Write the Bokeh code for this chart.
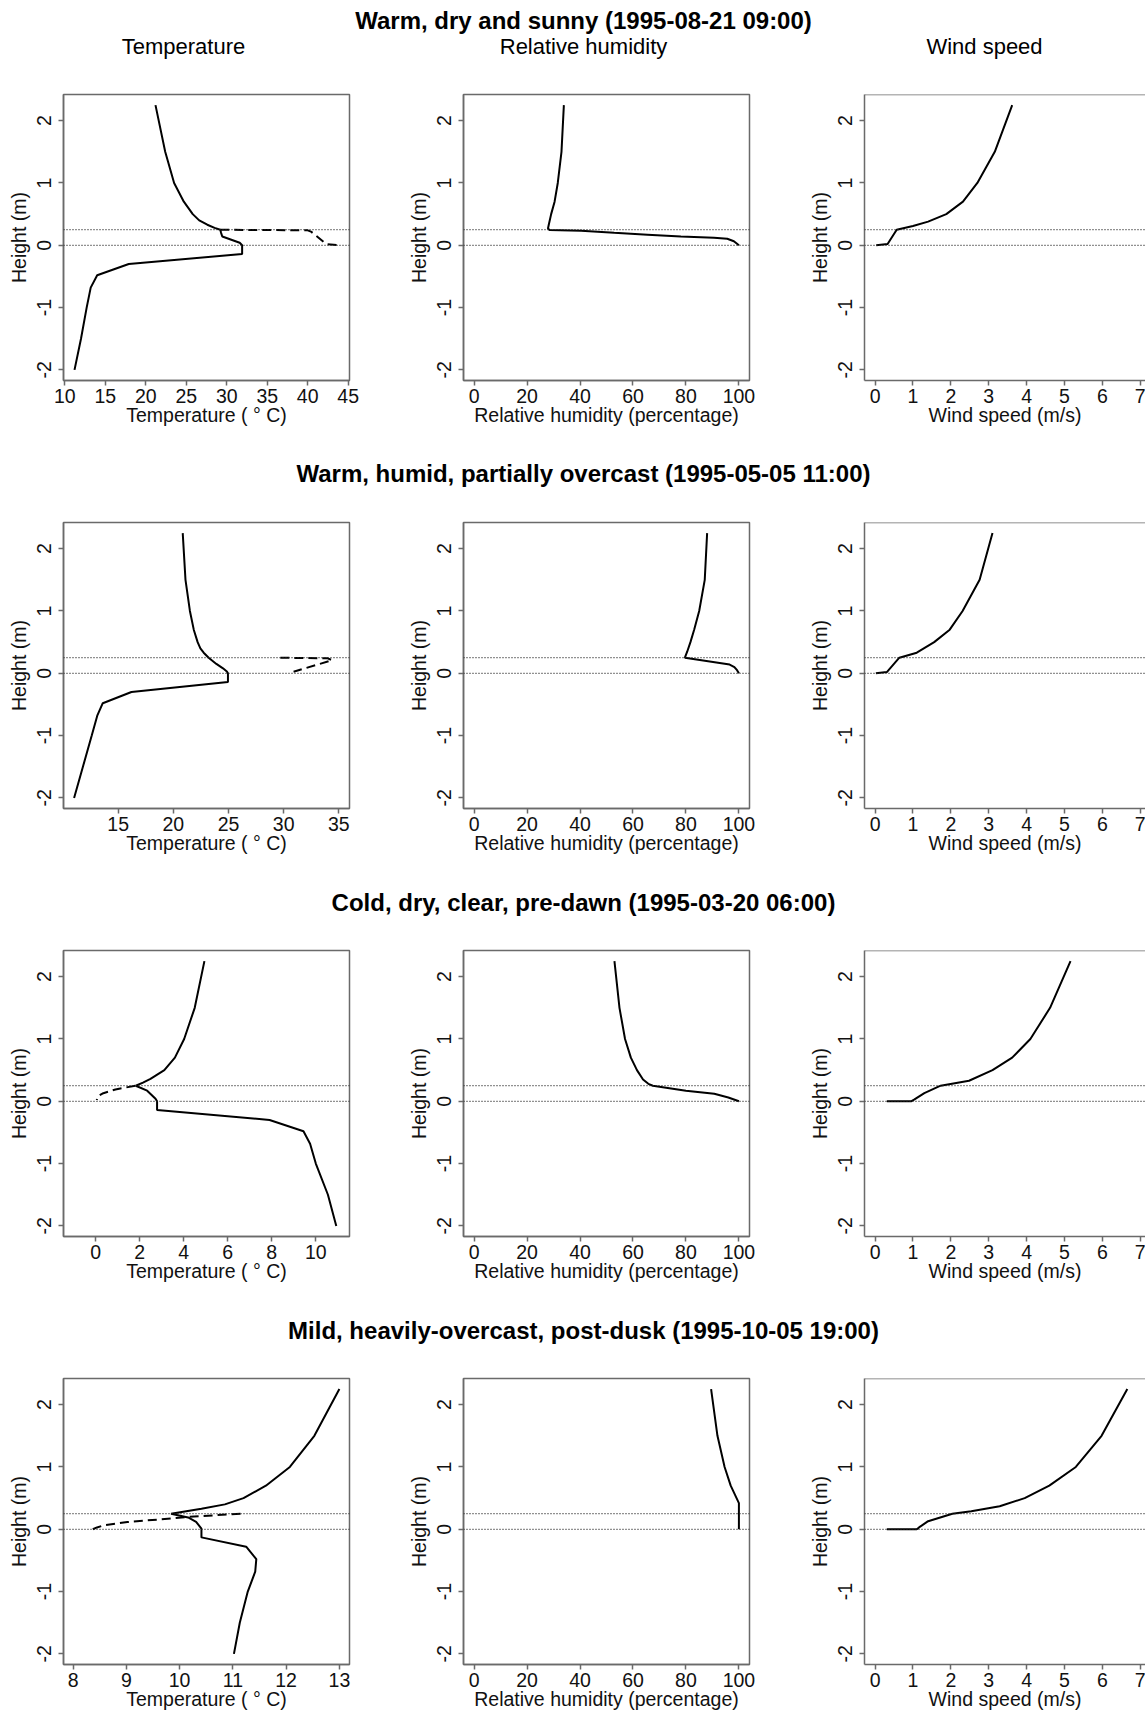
import math
from bokeh.plotting import figure
from bokeh.layouts import column, row
from bokeh.models import Range1d, FixedTicker, Span
from bokeh.core.properties import value
from bokeh.embed import file_html
from bokeh.resources import INLINE

# ---------------- data ----------------
row_titles = [
    "Warm, dry and sunny (1995-08-21 09:00)",
    "Warm, humid, partially overcast (1995-05-05 11:00)",
    "Cold, dry, clear, pre-dawn (1995-03-20 06:00)",
    "Mild, heavily-overcast, post-dusk (1995-10-05 19:00)",
]
col_titles = ["Temperature", "Relative humidity", "Wind speed"]
x_labels = ["Temperature ( \u00b0 C)", "Relative humidity (percentage)", "Wind speed (m/s)"]
y_label = "Height (m)"

y_ticks = [-2, -1, 0, 1, 2]
temp_ticks = [[10, 15, 20, 25, 30, 35, 40, 45], [15, 20, 25, 30, 35], [0, 2, 4, 6, 8, 10], [8, 9, 10, 11, 12, 13]]
rh_ticks = [0, 20, 40, 60, 80, 100]
wind_ticks = [0, 1, 2, 3, 4, 5, 6, 7]
ref_heights = [0.0, 0.25]

# Row 1 : warm, dry, sunny
t1_h = [2.25, 1.5, 1.0, 0.7, 0.5, 0.4, 0.33, 0.28, 0.25, 0.2, 0.14, 0.04, 0.0, -0.14, -0.3, -0.48, -0.68, -1.0, -1.5, -2.0]
t1_x = [21.2, 22.4, 23.5, 24.7, 25.8, 26.6, 27.6, 28.5, 29.2, 29.3, 29.45, 31.6, 31.9, 31.9, 17.9, 14.0, 13.2, 12.7, 12.0, 11.2]
d1_h = [0.25, 0.24, 0.22, 0.02, 0.005]
d1_x = [29.2, 40.0, 40.4, 42.3, 43.7]
rh1_h = [2.25, 1.5, 1.0, 0.7, 0.5, 0.33, 0.27, 0.245, 0.235, 0.2, 0.17, 0.14, 0.12, 0.105, 0.065, 0.0]
rh1_x = [33.9, 33.0, 31.6, 30.4, 29.1, 28.2, 27.9, 28.5, 40.4, 52.9, 65.5, 78.1, 90.6, 95.6, 98.1, 100.0]
w1_h = [2.25, 1.5, 1.0, 0.7, 0.5, 0.38, 0.31, 0.25, 0.02, 0.0]
w1_x = [3.62, 3.16, 2.70, 2.32, 1.88, 1.40, 1.0, 0.57, 0.33, 0.03]

# Row 2 : warm, humid, partially overcast
t2_h = [2.25, 1.5, 1.0, 0.7, 0.5, 0.4, 0.33, 0.25, 0.15, 0.08, 0.03, 0.0, -0.14, -0.3, -0.48, -0.68, -1.0, -1.5, -2.0]
t2_x = [20.85, 21.1, 21.5, 21.85, 22.2, 22.45, 22.75, 23.2, 23.9, 24.5, 24.85, 24.95, 24.95, 16.2, 13.6, 13.1, 12.6, 11.8, 11.0]
d2_h = [0.25, 0.24, 0.21, 0.025]
d2_x = [29.7, 34.0, 34.4, 30.9]
rh2_h = [2.25, 1.5, 1.0, 0.7, 0.5, 0.35, 0.25, 0.14, 0.1, 0.05, 0.0]
rh2_x = [88.0, 87.1, 85.0, 83.1, 81.7, 80.5, 79.6, 96.5, 98.3, 99.3, 100.0]
w2_h = [2.25, 1.5, 1.0, 0.7, 0.5, 0.33, 0.25, 0.02, 0.0]
w2_x = [3.1, 2.76, 2.31, 1.97, 1.56, 1.1, 0.64, 0.31, 0.02]

# Row 3 : cold, dry, clear, pre-dawn
t3_h = [2.25, 1.5, 1.0, 0.7, 0.5, 0.36, 0.3, 0.25, 0.17, 0.04, 0.0, -0.14, -0.3, -0.48, -0.68, -1.0, -1.5, -2.0]
t3_x = [4.94, 4.5, 4.02, 3.6, 3.12, 2.49, 2.15, 1.82, 2.34, 2.72, 2.79, 2.79, 7.9, 9.44, 9.74, 10.0, 10.55, 10.93]
d3_h = [0.25, 0.19, 0.13, 0.08, 0.02]
d3_x = [1.8, 0.9, 0.35, 0.1, 0.05]
rh3_h = [2.25, 1.5, 1.0, 0.7, 0.5, 0.35, 0.28, 0.25, 0.17, 0.12, 0.06, 0.0]
rh3_x = [53.0, 54.9, 57.0, 59.2, 61.5, 63.8, 65.8, 67.5, 80.0, 90.7, 96.0, 100.0]
w3_h = [2.25, 1.5, 1.0, 0.7, 0.5, 0.33, 0.25, 0.13, 0.03, 0.0, 0.0]
w3_x = [5.16, 4.62, 4.1, 3.62, 3.1, 2.48, 1.73, 1.3, 1.04, 0.95, 0.31]

# Row 4 : mild, heavily overcast, post-dusk
t4_h = [2.25, 1.5, 1.0, 0.7, 0.5, 0.4, 0.33, 0.25, 0.19, 0.12, 0.01, 0.0, -0.13, -0.28, -0.48, -0.68, -1.0, -1.5, -2.0]
t4_x = [13.0, 12.53, 12.07, 11.62, 11.2, 10.85, 10.41, 9.84, 10.16, 10.31, 10.41, 10.41, 10.41, 11.25, 11.44, 11.42, 11.28, 11.13, 11.02]
d4_h = [0.0, 0.03, 0.064, 0.117, 0.16, 0.2, 0.25]
d4_x = [8.37, 8.45, 8.58, 9.02, 9.65, 10.16, 11.16]
rh4_h = [2.25, 1.5, 1.0, 0.7, 0.42, 0.0]
rh4_x = [89.5, 91.9, 94.6, 96.9, 100.0, 100.0]
w4_h = [2.25, 1.5, 1.0, 0.7, 0.5, 0.37, 0.29, 0.25, 0.13, 0.03, 0.0, 0.0]
w4_x = [6.66, 5.98, 5.3, 4.6, 3.95, 3.29, 2.54, 2.04, 1.4, 1.16, 1.1, 0.31]

# axis ranges (R-style 4% padding)
temp_ranges = [(9.84, 45.16), (10.04, 35.97), (-1.46, 11.53), (7.82, 13.19)]
rh_range = (-4, 104)
wind_range = (-0.28, 7.14)
y_range = (-2.17, 2.42)

# ---------------- styling helpers ----------------
FONT = "Liberation Sans"
BOX = "#6a6a6a"


def make_panel(xr, xticks, xlabel, solid, dashed=None, col=0, bottom=55):
    if col == 2:
        fw, bl, br = 281, 64, 0
    else:
        fw, bl, br = 286, 63, 51
    p = figure(frame_width=fw, frame_height=286,
               x_range=Range1d(*xr), y_range=Range1d(*y_range),
               output_backend="svg", toolbar_location=None, title=None,
               min_border_left=bl, min_border_right=br,
               min_border_top=10, min_border_bottom=bottom)
    p.grid.visible = False
    p.background_fill_color = "white"
    p.border_fill_color = "white"
    if col == 2:
        p.outline_line_color = None
        p.add_layout(Span(location=y_range[1], dimension="width",
                          line_color=BOX, line_width=1.5))
    else:
        p.outline_line_color = BOX
        p.outline_line_width = 1.5
    p.xaxis.ticker = FixedTicker(ticks=xticks)
    p.yaxis.ticker = FixedTicker(ticks=y_ticks)
    p.yaxis.major_label_overrides = {t: str(t) for t in y_ticks}
    p.xaxis.major_label_overrides = {t: str(t) for t in xticks}
    p.xaxis.axis_label = xlabel
    p.yaxis.axis_label = y_label
    for ax in (p.xaxis[0], p.yaxis[0]):
        ax.axis_line_color = BOX
        ax.axis_line_width = 1.5
        ax.major_tick_line_color = BOX
        ax.major_tick_line_width = 1.5
        ax.major_tick_in = 0
        ax.major_tick_out = 5
        ax.minor_tick_line_color = None
        ax.major_label_text_font = FONT
        ax.major_label_text_font_size = "19.5px"
        ax.major_label_text_color = "#111111"
        ax.axis_label_text_font = FONT
        ax.axis_label_text_font_size = "19.5px"
        ax.axis_label_text_font_style = "normal"
        ax.axis_label_text_color = "#111111"
    p.xaxis.major_label_standoff = 3
    p.xaxis.axis_label_standoff = -2
    p.yaxis.major_label_orientation = "parallel"
    p.yaxis.major_label_standoff = 7
    p.yaxis.axis_label_standoff = 5
    for hgt in ref_heights:
        p.add_layout(Span(location=hgt, dimension="width", line_color="#222222",
                          line_width=1.2, line_dash="1 2"))
    p.line(solid[0], solid[1], line_color="black", line_width=2)
    if dashed is not None:
        p.line(dashed[0], dashed[1], line_color="black", line_width=2, line_dash="9 5")
    return p


def make_header(h):
    p = figure(width=1145, height=h, x_range=Range1d(0, 1145), y_range=Range1d(h, 0),
               x_axis_type=None, y_axis_type=None,
               output_backend="svg", toolbar_location=None, title=None, min_border=0)
    p.grid.visible = False
    p.outline_line_color = None
    return p


def add_text(p, xs, ys, texts, size, style):
    p.text(x=xs, y=ys, text=texts, text_font=value(FONT), text_font_size=size,
           text_font_style=style, text_align="center", text_baseline="alphabetic",
           text_color="black")


temps = [(t1_x, t1_h), (t2_x, t2_h), (t3_x, t3_h), (t4_x, t4_h)]
dashes = [(d1_x, d1_h), (d2_x, d2_h), (d3_x, d3_h), (d4_x, d4_h)]
rhs = [(rh1_x, rh1_h), (rh2_x, rh2_h), (rh3_x, rh3_h), (rh4_x, rh4_h)]
winds = [(w1_x, w1_h), (w2_x, w2_h), (w3_x, w3_h), (w4_x, w4_h)]

children = []
for i in range(4):
    bottom = 55 if i < 3 else 48
    if i == 0:
        h1 = make_header(84)
        add_text(h1, [583], [20], [row_titles[0]], "24px", "bold")
        add_text(h1, [183, 583, 984], [46, 46, 46], col_titles, "22px", "normal")
        children.append(h1)
    else:
        base = [38, 39, 39][i - 1]
        hh = make_header(77)
        add_text(hh, [583], [base], [row_titles[i]], "24px", "bold")
        children.append(hh)
    p1 = make_panel(temp_ranges[i], temp_ticks[i], x_labels[0], temps[i], dashes[i], 0, bottom)
    p2 = make_panel(rh_range, rh_ticks, x_labels[1], rhs[i], None, 1, bottom)
    p3 = make_panel(wind_range, wind_ticks, x_labels[2], winds[i], None, 2, bottom)
    children.append(row(p1, p2, p3))

layout = column(*children)
open("out.html", "w").write(file_html(layout, INLINE))
